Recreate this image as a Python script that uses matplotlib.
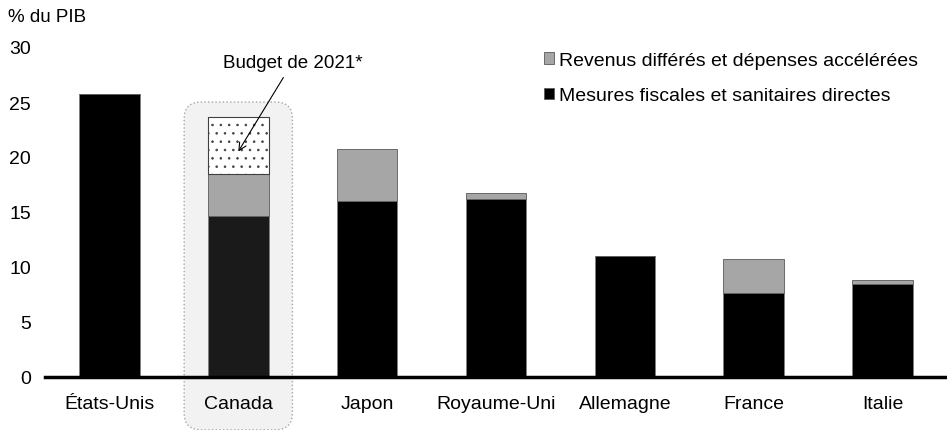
import matplotlib
matplotlib.use("Agg")
import matplotlib.pyplot as plt
from matplotlib.patches import FancyBboxPatch, Patch
import numpy as np

plt.rcParams['font.family'] = ['Liberation Sans', 'DejaVu Sans']
plt.rcParams['hatch.linewidth'] = 0.6
plt.rcParams['hatch.color'] = '#606060'

countries = ['États-Unis', 'Canada', 'Japon', 'Royaume-Uni', 'Allemagne', 'France', 'Italie']
direct = [25.7, 14.6, 16.0, 16.2, 11.0, 7.6, 8.5]
deferred = [0.0, 3.9, 4.7, 0.5, 0.0, 3.1, 0.35]
budget_2021 = [0.0, 5.1, 0.0, 0.0, 0.0, 0.0, 0.0]

x = np.arange(len(countries))
w = 0.47
black_cols = ['#000000'] * len(countries)
black_cols[1] = '#1a1a1a'

fig = plt.figure(figsize=(9.47, 4.31), dpi=100)
ax = fig.add_axes([45 / 947, 1 - 378 / 431, 902 / 947, 330 / 431])

# Canada highlight box
box = FancyBboxPatch((x[1] - 0.42, -4.8), 0.84, 29.8,
                     boxstyle="round,pad=0,rounding_size=0.13",
                     mutation_aspect=11.8, facecolor='#f2f2f2',
                     edgecolor='#a6a6a6', linestyle=':', linewidth=1,
                     clip_on=False, zorder=0)
ax.add_patch(box)

ax.bar(x, direct, w, color=black_cols, edgecolor='#7f7f7f', linewidth=0.6, zorder=2)
bottom2 = np.array(direct)
ax.bar(x, deferred, w, bottom=bottom2, color='#a6a6a6', edgecolor='#595959',
       linewidth=0.6, zorder=2)
bottom3 = bottom2 + np.array(deferred)
mask = np.array(budget_2021) > 0
ax.bar(x[mask], np.array(budget_2021)[mask], w, bottom=bottom3[mask], color='white',
       edgecolor='#404040', linewidth=0.8, hatch='..', zorder=2)

ax.annotate('Budget de 2021*', xy=(x[1], 20.5), xytext=(x[1] + 0.42, 27.8),
            ha='center', va='bottom', fontsize=13.5,
            arrowprops=dict(arrowstyle='->', color='black', lw=0.8,
                            shrinkA=3, shrinkB=0), zorder=5)

ax.set_xlim(-0.5, 6.5)
ax.set_ylim(0, 30)
ax.set_yticks(range(0, 31, 5))
ax.set_xticks(x)
ax.set_xticklabels(countries)
ax.tick_params(axis='both', length=0, labelsize=14)
ax.tick_params(axis='x', pad=13)
ax.tick_params(axis='y', pad=10)
for s in ['top', 'right', 'left']:
    ax.spines[s].set_visible(False)
ax.spines['bottom'].set_linewidth(2.5)
ax.spines['bottom'].set_zorder(4)

fig.text(8 / 947, 1 - 18 / 431, '% du PIB', fontsize=13.5, va='center', ha='left')

handles = [Patch(facecolor='#a6a6a6', edgecolor='#595959', linewidth=0.6),
           Patch(facecolor='#000000', edgecolor='#595959', linewidth=0.6)]
labels = ['Revenus différés et dépenses accélérées', 'Mesures fiscales et sanitaires directes']
fig.legend(handles, labels, loc='upper left', bbox_to_anchor=(536 / 947, 1 - 45 / 431),
           frameon=False, fontsize=14, handlelength=0.55, handleheight=0.55,
           handletextpad=0.25, labelspacing=0.95, borderaxespad=0)

fig.savefig('out.png', dpi=100)
